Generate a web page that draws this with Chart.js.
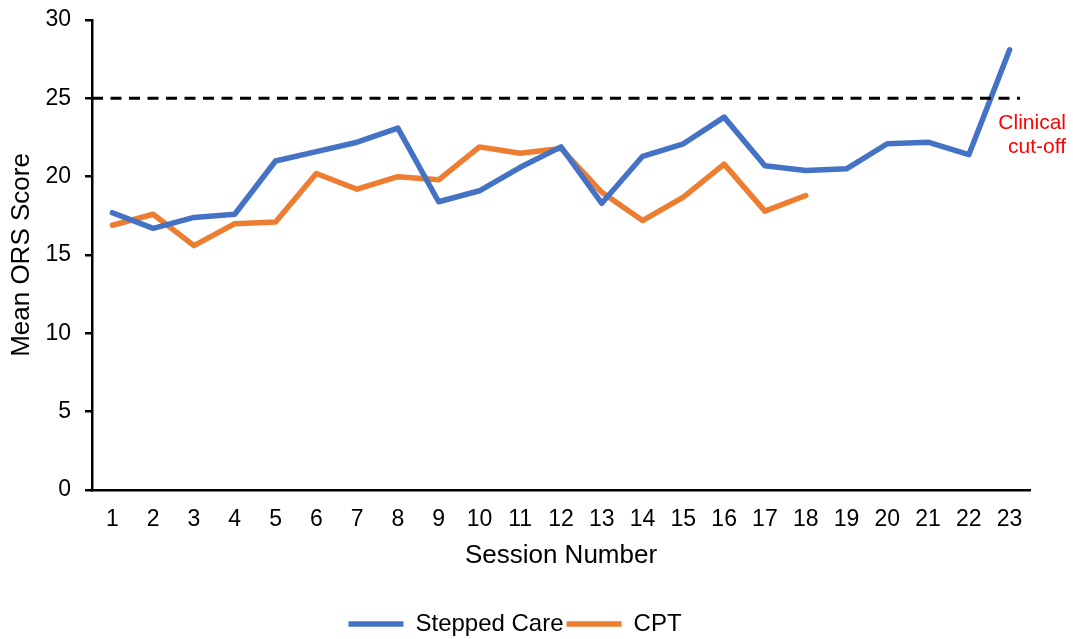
<!DOCTYPE html>
<html>
<head>
<meta charset="utf-8">
<script src="https://cdn.jsdelivr.net/npm/chart.js@4/dist/chart.umd.min.js"></script>
<style>
  html, body { margin: 0; padding: 0; background: #fff; }
  canvas { display: block; }
</style>
</head>
<body>
<canvas id="orsChart" width="1073" height="639"></canvas>
<script>
// ====== DATA ======
const sessions = ['1','2','3','4','5','6','7','8','9','10','11','12','13','14','15','16','17','18','19','20','21','22','23'];
const steppedCare = [17.7, 16.7, 17.4, 17.6, 21.0, 21.6, 22.2, 23.1, 18.4, 19.1, 20.6, 21.9, 18.3, 21.3, 22.1, 23.8, 20.7, 20.4, 20.5, 22.1, 22.2, 21.4, 28.1];
const cpt = [16.9, 17.6, 15.6, 17.0, 17.1, 20.2, 19.2, 20.0, 19.8, 21.9, 21.5, 21.8, 19.0, 17.2, 18.7, 20.8, 17.8, 18.8, null, null, null, null, null];
const yTicks = [0, 5, 10, 15, 20, 25, 30];
const clinicalCutoff = 25;
const cutoffLabel = ['Clinical', 'cut-off'];
// ==================

const FONT = "'Liberation Sans', Arial, sans-serif";

// garis putus-putus cut-off klinis + label merah
const cutoffPlugin = {
    id: 'cutoffLine',
    afterDatasetsDraw(chart) {
        const { ctx, chartArea, scales } = chart;
        const y = scales.y.getPixelForValue(clinicalCutoff);
        ctx.save();
        ctx.strokeStyle = '#000';
        ctx.lineWidth = 3;
        ctx.setLineDash([11, 7.5]);
        ctx.beginPath();
        ctx.moveTo(chartArea.left, y);
        ctx.lineTo(chartArea.right - 10, y);
        ctx.stroke();
        ctx.setLineDash([]);
        ctx.fillStyle = '#ff0000';
        ctx.font = `21px ${FONT}`;
        ctx.textAlign = 'right';
        ctx.textBaseline = 'middle';
        ctx.fillText(cutoffLabel[0], chartArea.right + 36, y + 25);
        ctx.fillText(cutoffLabel[1], chartArea.right + 36, y + 49);
        ctx.restore();
    }
};

const ctx = document.getElementById('orsChart').getContext('2d');
const orsChart = new Chart(ctx, {
    type: 'line',
    data: {
        labels: sessions,
        datasets: [
            {
                label: 'Stepped Care',
                data: steppedCare,
                borderColor: '#4472c4',
                backgroundColor: '#4472c4',
                borderWidth: 5.5,
                tension: 0,
                pointRadius: 0,
                borderJoinStyle: 'round',
                borderCapStyle: 'round',
                spanGaps: false
            },
            {
                label: 'CPT',
                data: cpt,
                borderColor: '#ed7d31',
                backgroundColor: '#ed7d31',
                borderWidth: 5.5,
                tension: 0,
                pointRadius: 0,
                borderJoinStyle: 'round',
                borderCapStyle: 'round',
                spanGaps: false
            }
        ]
    },
    options: {
        responsive: false,
        animation: false,
        layout: { padding: { top: 20, right: 43, bottom: -7, left: 0 } },
        plugins: {
            legend: {
                position: 'bottom',
                labels: {
                    color: '#000',
                    font: { family: FONT, size: 24 },
                    usePointStyle: true,
                    pointStyle: 'line',
                    pointStyleWidth: 55,
                    padding: 3
                }
            },
            tooltip: { enabled: false }
        },
        scales: {
            x: {
                offset: true,
                grid: { display: true, drawOnChartArea: false, drawTicks: false },
                border: { display: true, color: '#000', width: 2.5 },
                ticks: { color: '#000', font: { family: FONT, size: 23 }, padding: 16, maxRotation: 0, autoSkip: false },
                title: {
                    display: true,
                    text: 'Session Number',
                    color: '#000',
                    font: { family: FONT, size: 26 },
                    padding: { top: 0, bottom: 38 }
                },
                afterFit(scale) { scale.height = 119; }
            },
            y: {
                min: 0,
                max: 30,
                afterBuildTicks(scale) { scale.ticks = yTicks.map(v => ({ value: v })); },
                grid: { display: true, drawOnChartArea: false, drawTicks: true, tickLength: 7, color: '#000', lineWidth: 2.5 },
                border: { display: true, color: '#000', width: 2.5 },
                ticks: { color: '#000', font: { family: FONT, size: 23 }, padding: 14 },
                title: {
                    display: true,
                    text: 'Mean ORS Score',
                    color: '#000',
                    font: { family: FONT, size: 26 },
                    padding: { top: 6, bottom: 0 }
                },
                afterFit(scale) {
                    scale.width = 92;
                    scale.paddingTop = 0;
                    scale.paddingBottom = 0;
                }
            }
        }
    },
    plugins: [cutoffPlugin]
});
</script>
</body>
</html>
